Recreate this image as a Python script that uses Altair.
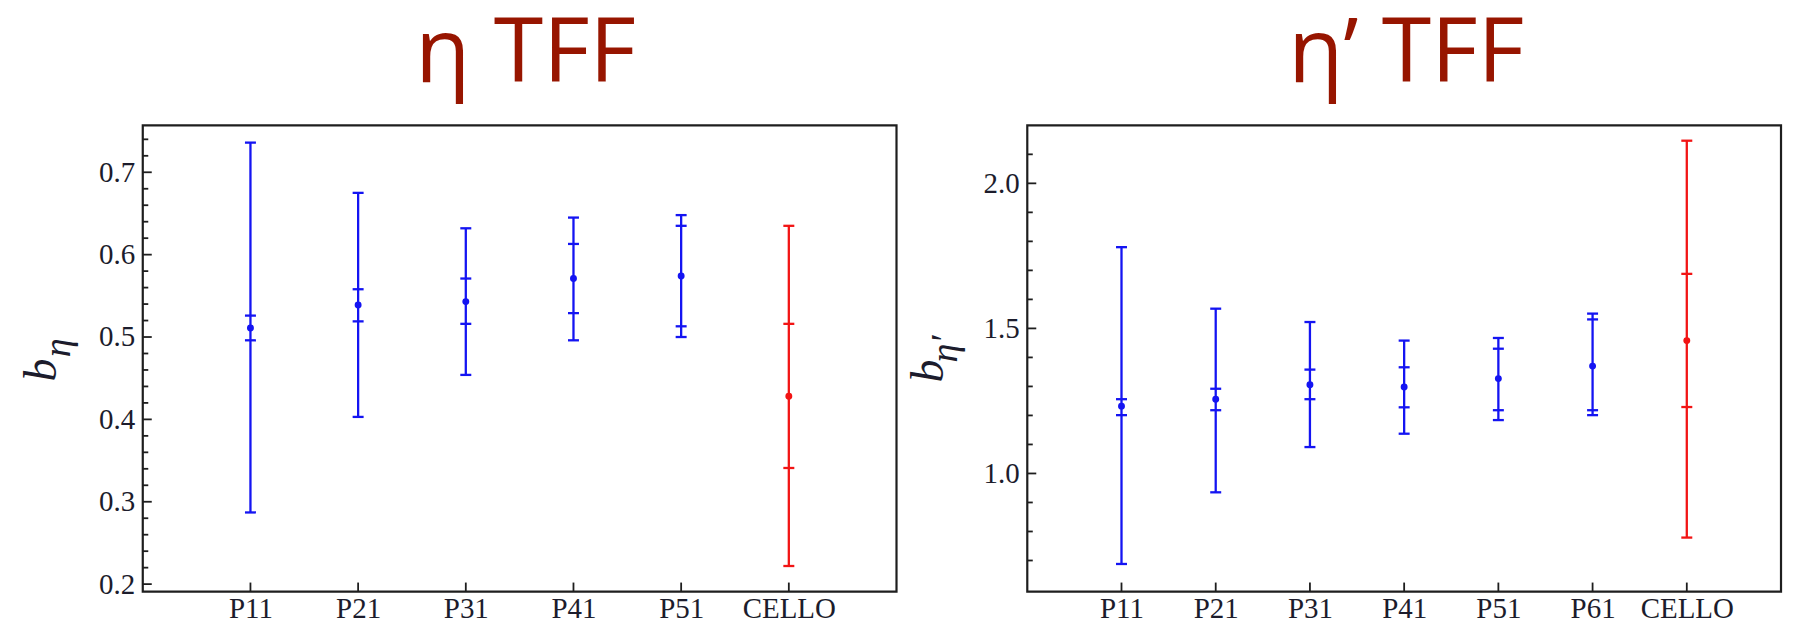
import altair as alt
import pandas as pd

# ---------------- data: eta TFF (left panel) ----------------
ETA_CATS = ["P11", "P21", "P31", "P41", "P51", "CELLO"]
ETA_C    = [0.511, 0.539, 0.543, 0.571, 0.574, 0.428]
ETA_LO   = [0.287, 0.403, 0.454, 0.496, 0.500, 0.222]
ETA_HI   = [0.736, 0.675, 0.632, 0.645, 0.648, 0.635]
ETA_ILO  = [0.496, 0.519, 0.516, 0.529, 0.513, 0.341]
ETA_IHI  = [0.526, 0.558, 0.571, 0.613, 0.635, 0.516]
ETA_GRP  = ["pade", "pade", "pade", "pade", "pade", "exp"]
ETA_YDOM = [0.191, 0.757]
ETA_MAJOR = [0.2, 0.3, 0.4, 0.5, 0.6, 0.7]
ETA_MINOR = [0.22, 0.24, 0.26, 0.28, 0.32, 0.34, 0.36, 0.38, 0.42, 0.44, 0.46,
             0.48, 0.52, 0.54, 0.56, 0.58, 0.62, 0.64, 0.66, 0.68, 0.72, 0.74]
ETA_TITLE = ["η TFF"]
ETA_YLABEL = ["b", "η"]

# ---------------- data: eta' TFF (right panel) ----------------
ETAP_CATS = ["P11", "P21", "P31", "P41", "P51", "P61", "CELLO"]
ETAP_C    = [1.232, 1.256, 1.306, 1.298, 1.327, 1.370, 1.458]
ETAP_LO   = [0.688, 0.935, 1.091, 1.137, 1.184, 1.201, 0.779]
ETAP_HI   = [1.780, 1.568, 1.522, 1.458, 1.467, 1.551, 2.147]
ETAP_ILO  = [1.201, 1.218, 1.256, 1.228, 1.218, 1.218, 1.229]
ETAP_IHI  = [1.256, 1.292, 1.358, 1.366, 1.430, 1.531, 1.688]
ETAP_GRP  = ["pade", "pade", "pade", "pade", "pade", "pade", "exp"]
ETAP_YDOM = [0.593, 2.2]
ETAP_MAJOR = [1.0, 1.5, 2.0]
ETAP_MINOR = [0.7, 0.8, 0.9, 1.1, 1.2, 1.3, 1.4, 1.6, 1.7, 1.8, 1.9, 2.1]
ETAP_TITLE = ["η’ TFF"]
ETAP_YLABEL = ["b", "η′"]

BLUE = "#1414f2"
RED = "#f21414"
FRAME = "#1e1e1e"
LBL = "#1c1c2c"
TITLE_COLOR = "#971500"
SERIF = "Liberation Serif"

W_L, W_R, H = 755, 755, 467


def panel(cats, c, lo, hi, ilo, ihi, grp, ydom, major, minor, title, ylabel,
          w, bpos, spos, tdx, anchor=False):
    df = pd.DataFrame({"cat": cats, "c": c, "lo": lo, "hi": hi,
                       "ilo": ilo, "ihi": ihi, "grp": grp})
    xs = alt.Scale(type="point", domain=cats, padding=1)
    ys = alt.Scale(domain=ydom, nice=False, zero=False)
    col = alt.Color("grp:N", scale=alt.Scale(domain=["pade", "exp"], range=[BLUE, RED]),
                    legend=None)
    xaxis = alt.Axis(title=None, labelAngle=0, tickSize=0, ticks=False, domain=False,
                     grid=False, labelFont=SERIF, labelFontSize=29, labelColor=LBL,
                     labelPadding=3)
    yaxis = alt.Axis(title=None, values=major, format=".1f", tickSize=0, ticks=False,
                     domain=False, grid=False, labelFont=SERIF, labelFontSize=29,
                     labelColor=LBL, labelPadding=8)

    bars = alt.Chart(df).mark_rule(strokeWidth=2.3).encode(
        x=alt.X("cat:N", scale=xs, axis=xaxis),
        y=alt.Y("lo:Q", scale=ys, axis=yaxis),
        y2="hi:Q",
        color=col,
    )
    caps = alt.Chart(df).transform_fold(
        ["lo", "hi", "ilo", "ihi"], as_=["k", "v"]
    ).mark_tick(size=11, thickness=2.3, orient="horizontal", opacity=1).encode(
        x="cat:N", y="v:Q", color=col
    )
    dots = alt.Chart(df).mark_circle(size=48, opacity=1).encode(
        x="cat:N", y="c:Q", color=col
    )
    ymaj = alt.Chart(pd.DataFrame({"v": major})).mark_rule(
        color=FRAME, strokeWidth=1.8).encode(
        y="v:Q", x=alt.value(0), x2=alt.value(9))
    ymin = alt.Chart(pd.DataFrame({"v": minor})).mark_rule(
        color=FRAME, strokeWidth=1.8).encode(
        y="v:Q", x=alt.value(0), x2=alt.value(5.5))
    xt = alt.Chart(pd.DataFrame({"cat": cats})).mark_rule(
        color=FRAME, strokeWidth=1.8).encode(
        x="cat:N", y=alt.value(H), y2=alt.value(H - 9))
    lab_b = alt.Chart(pd.DataFrame({"t": [ylabel[0]]})).mark_text(
        angle=270, font=SERIF, fontStyle="italic", fontSize=46, align="center",
        baseline="alphabetic", color=LBL).encode(
        x=alt.value(bpos[0]), y=alt.value(bpos[1]), text="t:N")
    lab_s = alt.Chart(pd.DataFrame({"t": [ylabel[1]]})).mark_text(
        angle=270, font=SERIF, fontStyle="italic", fontSize=38, align="center",
        baseline="alphabetic", color=LBL).encode(
        x=alt.value(spos[0]), y=alt.value(spos[1]), text="t:N")
    ttl = alt.Chart(pd.DataFrame({"t": title})).mark_text(
        font="Open Sans", fontSize=90, fontWeight="normal", color=TITLE_COLOR,
        align="center", baseline="alphabetic").encode(
        x=alt.value(w / 2 + tdx), y=alt.value(-43), text="t:N")
    layers = [bars, caps, dots, ymaj, ymin, xt, lab_b, lab_s, ttl]
    if anchor:
        anc = alt.Chart(pd.DataFrame({"a": [0]})).mark_rule(
            opacity=0, strokeWidth=1).encode(
            x=alt.value(-133), x2=alt.value(-133), y=alt.value(200), y2=alt.value(210))
        layers.append(anc)
    return alt.layer(*layers).properties(width=w, height=H)


left = panel(ETA_CATS, ETA_C, ETA_LO, ETA_HI, ETA_ILO, ETA_IHI, ETA_GRP, ETA_YDOM,
             ETA_MAJOR, ETA_MINOR, ETA_TITLE, ETA_YLABEL, W_L,
             bpos=(-86.5, 245), spos=(-73, 223), tdx=6, anchor=True)
right = panel(ETAP_CATS, ETAP_C, ETAP_LO, ETAP_HI, ETAP_ILO, ETAP_IHI, ETAP_GRP,
              ETAP_YDOM, ETAP_MAJOR, ETAP_MINOR, ETAP_TITLE, ETAP_YLABEL, W_R,
              bpos=(-84.5, 246), spos=(-70, 224), tdx=2)

chart = alt.hconcat(left, right, spacing=131, bounds="flush").properties(
    padding={"left": 0, "top": 0, "right": 5, "bottom": 2}
).configure_view(stroke=FRAME, strokeWidth=2.2)

chart.save("out.html", embed_options={"renderer": "svg", "actions": False})
